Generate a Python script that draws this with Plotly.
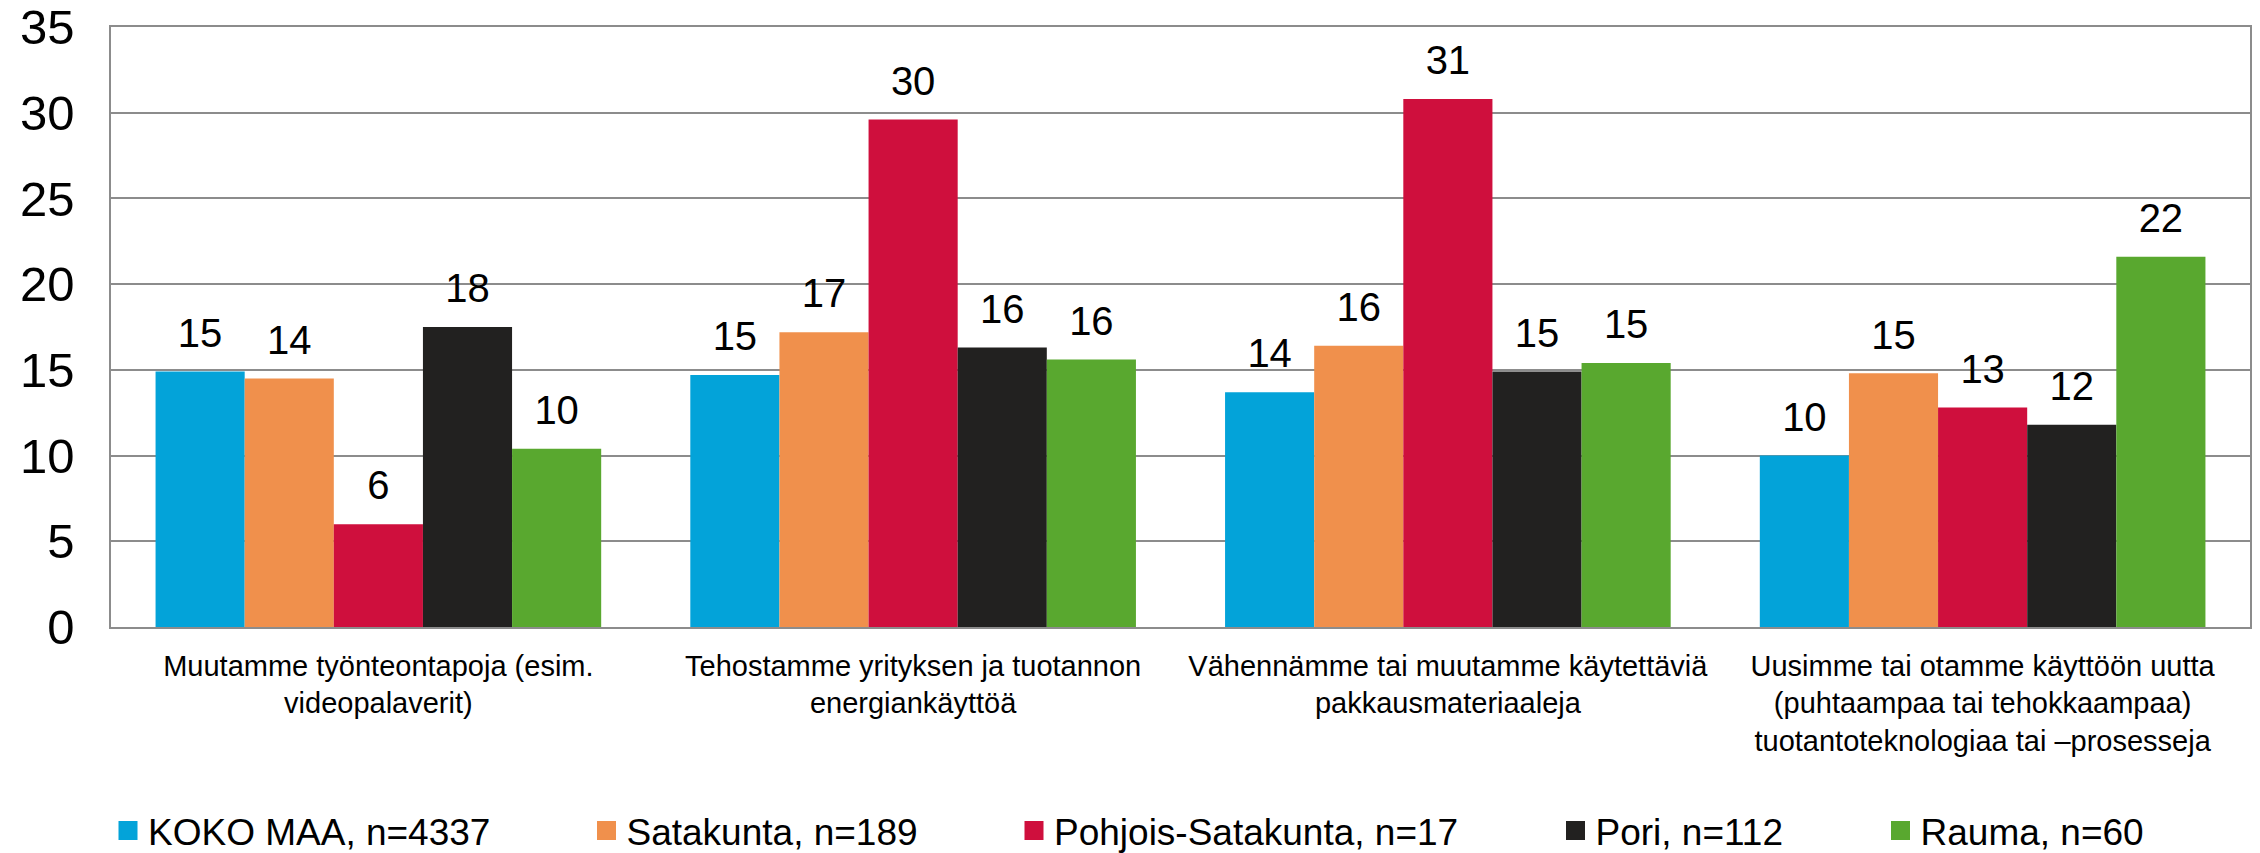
import plotly.graph_objects as go

categories = [
    "Muutamme työnteontapoja (esim.<br>videopalaverit)",
    "Tehostamme yrityksen ja tuotannon<br>energiankäyttöä",
    "Vähennämme tai muutamme käytettäviä<br>pakkausmateriaaleja",
    "Uusimme tai otamme käyttöön uutta<br>(puhtaampaa tai tehokkaampaa)<br>tuotantoteknologiaa tai –prosesseja",
]

series_names = [
    "KOKO MAA, n=4337",
    "Satakunta, n=189",
    "Pohjois-Satakunta, n=17",
    "Pori, n=112",
    "Rauma, n=60",
]

koko_maa = [14.9, 14.7, 13.7, 10.0]
satakunta = [14.5, 17.2, 16.4, 14.8]
pohjois_satakunta = [6.0, 29.6, 30.8, 12.8]
pori = [17.5, 16.3, 14.9, 11.8]
rauma = [10.4, 15.6, 15.4, 21.6]

series_values = [koko_maa, satakunta, pohjois_satakunta, pori, rauma]
colors = ["#03A3D9", "#F0904C", "#CF0F3D", "#222120", "#59A82F"]

y_ticks = [0, 5, 10, 15, 20, 25, 30, 35]

FONT = "Arial, Liberation Sans, sans-serif"
W, H = 2260, 853
ML, MR, MT, MB = 111, 10, 27, 226
PW = W - ML - MR
PH = H - MT - MB

# legend marker centres in pixels (Excel layout)
legend_centres = [128, 606.5, 1034, 1575.5, 1900.5]

fig = go.Figure()
legend_ids = ["legend", "legend2", "legend3", "legend4", "legend5"]

# bars
for i, (name, vals, col) in enumerate(zip(series_names, series_values, colors)):
    fig.add_trace(go.Bar(
        x=categories, y=vals, name=name,
        marker=dict(color=col, line=dict(width=0)),
        offsetgroup=str(i),
        showlegend=False, hoverinfo="x+y+name",
    ))

# data labels (grouped scatter text aligned to the bars)
for i, (name, vals) in enumerate(zip(series_names, series_values)):
    fig.add_trace(go.Scatter(
        x=categories, y=vals, name=name,
        mode="markers+text",
        marker=dict(size=22, color="rgba(0,0,0,0)"),
        text=[f"{round(v):d}" for v in vals],
        textposition="top center",
        textfont=dict(family=FONT, size=40, color="#000000"),
        offsetgroup=str(i),
        cliponaxis=False,
        showlegend=False, hoverinfo="skip",
    ))

# legend entries (square swatches), on a hidden overlay axis
for name, col, lid in zip(series_names, colors, legend_ids):
    fig.add_trace(go.Scatter(
        x=[None], y=[None], mode="markers", name=name,
        marker=dict(symbol="square", size=16, color=col, line=dict(width=3, color=col)),
        legend=lid, showlegend=True, hoverinfo="skip",
        xaxis="x2", yaxis="y2",
    ))

layout_legends = {}
for lid, cx in zip(legend_ids, legend_centres):
    layout_legends[lid] = dict(
        x=(cx - 20 - ML) / PW, xanchor="left",
        y=(627 - 831) / PH, yanchor="middle",
        orientation="h",
        font=dict(family=FONT, size=37, color="#000000"),
        bgcolor="rgba(0,0,0,0)", borderwidth=0,
        itemsizing="trace",
    )

fig.update_layout(
    width=W, height=H,
    margin=dict(l=ML, r=MR, t=MT, b=MB, pad=0, autoexpand=False),
    paper_bgcolor="#FFFFFF", plot_bgcolor="#FFFFFF",
    barmode="group", bargap=1 / 6, bargroupgap=0,
    scattermode="group", scattergap=1 / 6,
    font=dict(family=FONT, color="#000000"),
    xaxis=dict(
        showline=True, linecolor="#8C8C8C", linewidth=1.5, mirror=True,
        showgrid=False, ticks="", ticklabelstandoff=12, automargin=False,
        tickfont=dict(family=FONT, size=29, color="#000000"),
        tickangle=0,
    ),
    yaxis=dict(
        range=[0, 35], tickvals=y_ticks, ticktext=[str(t) for t in y_ticks],
        showgrid=True, gridcolor="#8C8C8C", gridwidth=1.5,
        showline=True, linecolor="#8C8C8C", linewidth=1.5, mirror=True,
        zeroline=False, ticks="", ticklabelstandoff=25, automargin=False,
        tickfont=dict(family=FONT, size=49, color="#000000"),
    ),
    xaxis2=dict(overlaying="x", visible=False, range=[0, 1]),
    yaxis2=dict(overlaying="y", visible=False, range=[0, 1]),
    **layout_legends,
)

fig.write_html(
    "out.html",
    config={"displayModeBar": False},
    post_script="document.body.style.margin='0';document.body.style.overflow='hidden';",
)
